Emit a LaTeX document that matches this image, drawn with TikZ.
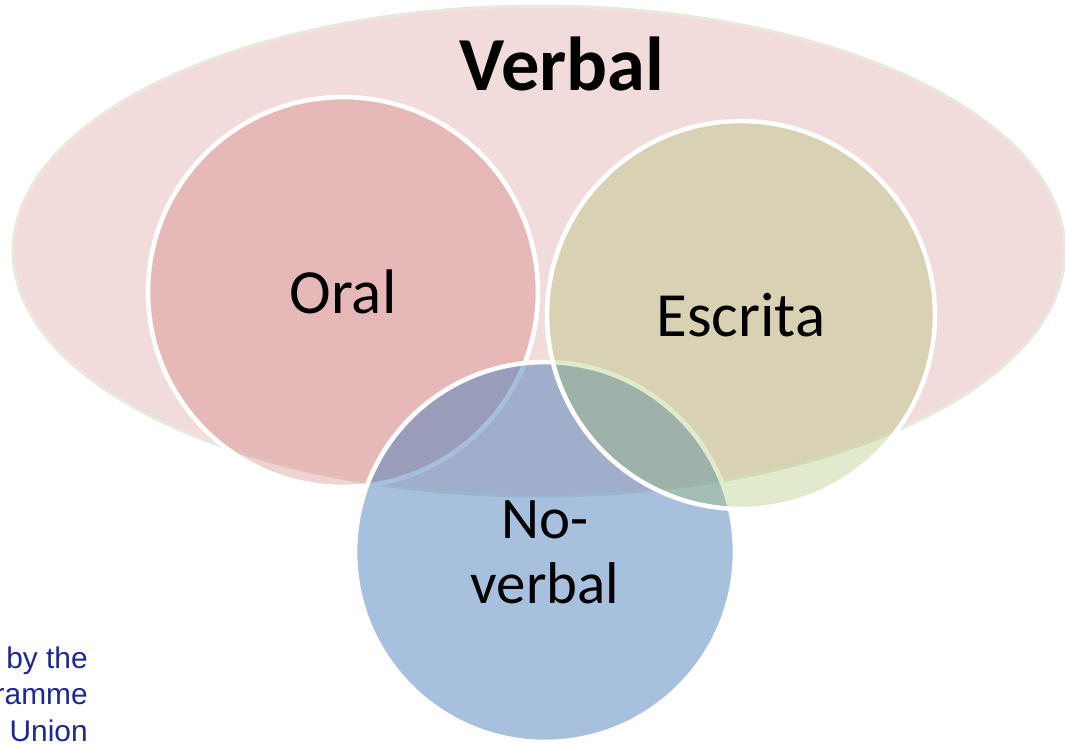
\documentclass[tikz,border=0pt]{standalone}
\usepackage{fontspec}
\setmainfont{Carlito}
\newfontfamily\fundfont{Liberation Sans}
\usepackage{xcolor}
\usepackage{tikz}
\usetikzlibrary{shapes.geometric, positioning}

\definecolor{verbalred}{RGB}{192,80,77}
\definecolor{escritagreen}{RGB}{155,187,89}
\definecolor{noverbalblue}{RGB}{79,129,189}
\definecolor{rimgray}{RGB}{234,231,220}
\definecolor{fundblue}{RGB}{28,40,150}

\begin{document}
\begin{tikzpicture}[x=0.02cm, y=-0.02cm,
    bubble/.style={circle, draw=white, line width=2.6pt, inner sep=0pt,
        text=black, text opacity=1, font=\fontsize{35.8}{42}\selectfont}]
    % Fix the canvas to the slide crop
    \useasboundingbox (0,0) rectangle (1065,745);

    % Outer ellipse for verbal communication
    \node[ellipse, draw=rimgray, line width=1.7pt, fill=verbalred, fill opacity=0.2,
        minimum width=21.04cm, minimum height=9.8cm, inner sep=0pt] (verbal) at (539,251) {};
    \node[anchor=base, inner sep=0pt, font=\bfseries\fontsize{43.5}{50}\selectfont] (verbaltitle) at (562,90) {Verbal};

    % Three circles (escrita last, it lies on top)
    \node[bubble, fill=verbalred, fill opacity=0.25, minimum size=7.8cm] (oral) at (343,292) {Oral};
    \node[bubble, fill=noverbalblue, fill opacity=0.5, minimum size=7.6cm, align=center,
        font=\fontsize{33.5}{37}\selectfont] (noverbal) at (545,552) {No-\\verbal};
    \node[bubble, fill=escritagreen, fill opacity=0.3, minimum size=7.76cm] (escrita) at (741,315) {Escrita};

    % Cut-off footer text of the slide
    \node[anchor=north east, inner sep=0pt, align=right, text=fundblue,
        font=\fundfont\fontsize{17}{21}\selectfont] (funding) at (88,646) {by the\\ramme\\Union};

\end{tikzpicture}
\end{document}
